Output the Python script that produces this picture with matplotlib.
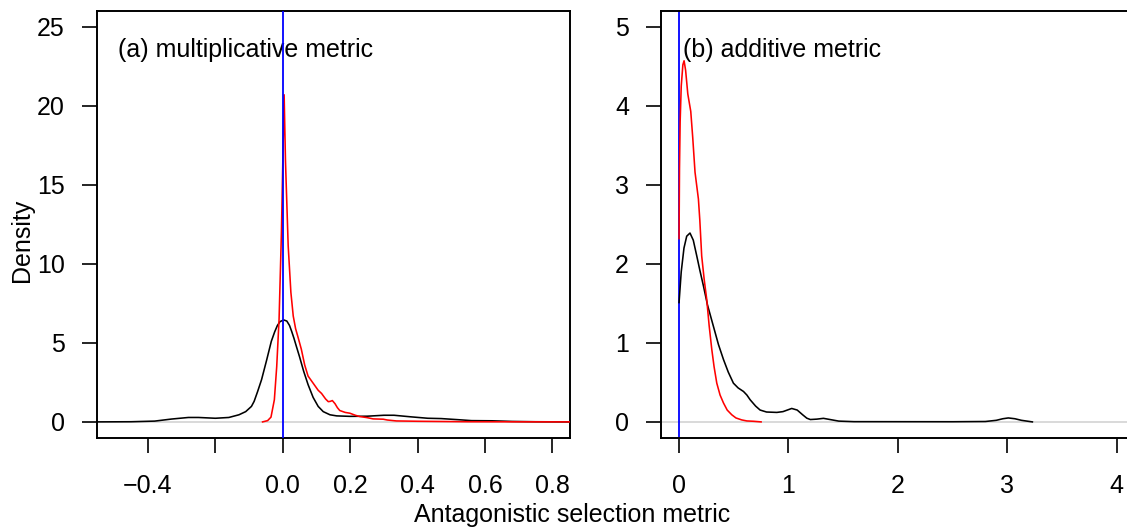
import matplotlib.pyplot as plt
import numpy as np

plt.rcParams['font.family'] = ['Liberation Sans', 'DejaVu Sans']

# panel (a): multiplicative metric, density curves
mult_black_x = [-0.56, -0.45, -0.38, -0.33, -0.28, -0.25, -0.2, -0.16, -0.13, -0.11,
                -0.093, -0.085, -0.075, -0.063, -0.048, -0.034, -0.024, -0.016, -0.008,
                0.003, 0.012, 0.02, 0.026, 0.033, 0.04, 0.05, 0.062, 0.075, 0.09,
                0.105, 0.12, 0.14, 0.16, 0.2, 0.25, 0.3, 0.33, 0.38, 0.43, 0.47,
                0.52, 0.56, 0.62, 0.68, 0.75, 0.85]
mult_black_y = [0, 0.01, 0.05, 0.18, 0.28, 0.28, 0.23, 0.28, 0.45, 0.65,
                0.98, 1.3, 1.9, 2.67, 3.9, 5.1, 5.7, 6.1, 6.35,
                6.45, 6.38, 6.1, 5.75, 5.3, 4.8, 4.1, 3.2, 2.36, 1.55,
                0.98, 0.65, 0.45, 0.38, 0.35, 0.36, 0.42, 0.42, 0.32, 0.23, 0.21,
                0.14, 0.08, 0.07, 0.03, 0.01, 0]
mult_red_x = [-0.06, -0.045, -0.035, -0.025, -0.018, -0.011, -0.004, 0.001, 0.004,
              0.008, 0.016, 0.024, 0.031, 0.038, 0.046, 0.055, 0.065, 0.075, 0.09,
              0.105, 0.115, 0.127, 0.135, 0.141, 0.147, 0.155, 0.162, 0.169, 0.185,
              0.199, 0.215, 0.228, 0.25, 0.268, 0.298, 0.31, 0.337, 0.4, 0.45, 0.55,
              0.7, 0.86]
mult_red_y = [0, 0.08, 0.3, 1.4, 3.5, 6.5, 12, 17.5, 20.7,
              16.5, 11.15, 8.2, 6.7, 5.9, 5.3, 4.6, 3.6, 2.9, 2.45,
              2.0, 1.8, 1.45, 1.28, 1.3, 1.35, 1.15, 0.9, 0.72, 0.6,
              0.55, 0.42, 0.34, 0.27, 0.19, 0.17, 0.12, 0.06, 0.04, 0.03, 0.01,
              0.005, 0]

# panel (b): additive metric
add_black_x = [0, 0.02, 0.045, 0.07, 0.1, 0.13, 0.162, 0.19, 0.223, 0.26, 0.314,
               0.36, 0.406, 0.45, 0.497, 0.54, 0.589, 0.62, 0.65, 0.7, 0.741, 0.8,
               0.894, 0.95, 1.03, 1.08, 1.13, 1.168, 1.2, 1.26, 1.32, 1.38, 1.46,
               1.6, 2.5, 2.8, 2.9, 2.96, 3.01, 3.07, 3.13, 3.23]
add_black_y = [1.51, 1.9, 2.2, 2.35, 2.39, 2.3, 2.10, 1.92, 1.72, 1.48, 1.21,
               0.98, 0.79, 0.63, 0.49, 0.43, 0.385, 0.34, 0.28, 0.2, 0.15, 0.125,
               0.12, 0.13, 0.17, 0.15, 0.09, 0.047, 0.03, 0.035, 0.045, 0.03, 0.01,
               0.003, 0.002, 0.005, 0.02, 0.04, 0.05, 0.04, 0.02, 0]
add_red_x = [0, 0.004, 0.01, 0.02, 0.035, 0.046, 0.06, 0.08, 0.107, 0.125, 0.146,
             0.177, 0.19, 0.207, 0.23, 0.253, 0.275, 0.299, 0.32, 0.345, 0.375,
             0.406, 0.44, 0.482, 0.52, 0.573, 0.62, 0.68, 0.75]
add_red_y = [2.32, 3.2, 3.8, 4.25, 4.52, 4.57, 4.45, 4.15, 3.93, 3.6, 3.16,
             2.82, 2.55, 2.10, 1.8, 1.55, 1.22, 0.92, 0.7, 0.49, 0.34,
             0.24, 0.15, 0.09, 0.05, 0.025, 0.012, 0.008, 0]

W, H = 1127, 531
fig = plt.figure(figsize=(W / 100, H / 100), dpi=100)

def px_axes(left, right, top, bottom):
    return fig.add_axes([left / W, 1 - bottom / H, (right - left) / W, (bottom - top) / H])

def style(ax):
    for s in ax.spines.values():
        s.set_linewidth(1.4)
    ax.tick_params(labelsize=18, length=11, width=1.2, pad=12)
    ax.tick_params(axis='x', pad=15)

ax1 = px_axes(96.7, 570, 11, 437.7)
ax1.axhline(0, color='#d3d3d3', lw=1.2, zorder=1)
ax1.plot(mult_black_x, mult_black_y, color='black', lw=1.15, zorder=2)
ax1.plot(mult_red_x, mult_red_y, color='red', lw=1.15, zorder=3)
ax1.axvline(0, color='blue', lw=1.3, zorder=4)
ax1.set_xlim(-0.552, 0.852)
ax1.set_ylim(-1, 26)
ax1.set_xticks([-0.4, -0.2, 0.0, 0.2, 0.4, 0.6, 0.8])
ax1.set_xticklabels(['\u22120.4', '', '0.0', '0.2', '0.4', '0.6', '0.8'])
ax1.set_yticks([0, 5, 10, 15, 20, 25])
ax1.text(118 / W, 1 - 50 / H, '(a) multiplicative metric', fontsize=18,
         transform=fig.transFigure, va='center', ha='left')
style(ax1)

ax2 = px_axes(661, 1127, 11, 437.7)
ax2.axhline(0, color='#d3d3d3', lw=1.2, zorder=1)
ax2.axvline(0, color='blue', lw=1.3, zorder=2)
ax2.plot(add_black_x, add_black_y, color='black', lw=1.15, zorder=3)
ax2.plot(add_red_x, add_red_y, color='red', lw=1.15, zorder=4)
ax2.set_xlim(-0.165, 4.095)
ax2.set_ylim(-0.2, 5.2)
ax2.set_xticks([0, 1, 2, 3, 4])
ax2.set_yticks([0, 1, 2, 3, 4, 5])
ax2.spines['right'].set_visible(False)
ax2.text(683 / W, 1 - 50 / H, '(b) additive metric', fontsize=18,
         transform=fig.transFigure, va='center', ha='left')
style(ax2)

fig.text(572 / W, 1 - 515 / H, 'Antagonistic selection metric', fontsize=18,
         ha='center', va='center')
fig.text(22 / W, 1 - 240 / H, 'Density', fontsize=18, rotation=90,
         ha='center', va='center')

fig.savefig('out.png', dpi=100)
